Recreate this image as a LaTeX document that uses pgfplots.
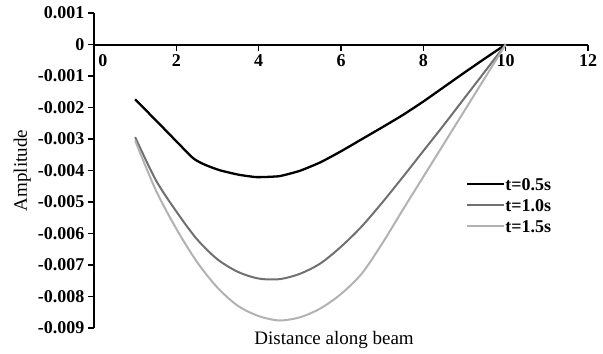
\documentclass[border=0pt]{standalone}
\usepackage{pgfplots}
\pgfplotsset{compat=1.18}
\usepackage{fontspec}
\setmainfont{Liberation Serif}

\definecolor{darkgrey}{RGB}{112,112,112}
\definecolor{lightgrey}{RGB}{178,178,178}

\begin{document}
\begin{tikzpicture}
\begin{axis}[
  scale only axis,
  width=494bp, height=315bp,
  xmin=0, xmax=12,
  ymin=-0.009, ymax=0.001,
  axis x line*=middle,
  axis y line*=left,
  axis line style={line width=2bp},
  tick align=outside,
  major tick length=6bp,
  tick style={line width=1.6bp, black},
  xtick={2,4,...,12},
  extra x ticks={0},
  extra x tick style={tick style={draw=none}, tick label style={xshift=9bp}},
  ytick={-0.009,-0.008,...,0.001},
  scaled y ticks=false,
  /pgf/number format/assume math mode=true,
  yticklabel style={/pgf/number format/fixed, /pgf/number format/precision=3},
  tick label style={font=\fontsize{18bp}{20bp}\selectfont\bfseries},
  xticklabel style={anchor=north, yshift=-1bp},
  xlabel={Distance along beam},
  ylabel={Amplitude},
  label style={font=\fontsize{19bp}{21bp}\selectfont},
  xlabel style={at={(axis description cs:0.486,-0.038)}, anchor=center},
  ylabel style={at={(axis description cs:-0.145,0.5)}, anchor=center},
  legend style={at={(axis description cs:0.753,0.476)}, anchor=north west,
    draw=none, fill=none, inner sep=0pt, outer sep=0pt, row sep=9bp,
    font=\fontsize{18bp}{20bp}\selectfont\bfseries,
    nodes={inner sep=0pt, text height=12bp, text depth=0bp}},
  legend cell align=left,
  legend image code/.code={\draw[#1] (0bp,0bp) -- (37bp,0bp);},
  every axis legend/.append style={/tikz/every even column/.append style={column sep=2bp}},
  clip=false,
]
% t = 0.5 s
\addplot[black, line width=2.3bp, smooth, tension=0.3] coordinates {
 (1,-0.00174) (1.7,-0.00267) (2.4,-0.00360) (2.7,-0.00382)
 (3.05,-0.00399) (3.5,-0.00413) (3.95,-0.00421) (4.5,-0.00418) (5.0,-0.00401)
 (5.5,-0.00374) (6.0,-0.00339) (6.5,-0.00301) (7.0,-0.00263) (7.5,-0.00224)
 (8.0,-0.00181) (8.5,-0.00135) (9.0,-0.00089) (9.5,-0.00044) (10,0)
};
\addlegendentry{t=0.5s}
% t = 1.0 s
\addplot[darkgrey, line width=2bp, smooth, tension=0.5] coordinates {
 (1,-0.00294) (1.5,-0.00430) (2,-0.00530) (2.5,-0.00618) (3,-0.00682)
 (3.5,-0.00722) (4,-0.00743) (4.5,-0.00745) (5,-0.00728) (5.5,-0.00695)
 (6,-0.00642) (6.5,-0.00578) (7,-0.00502) (7.5,-0.00421) (8,-0.00338)
 (8.5,-0.00255) (9,-0.00170) (9.5,-0.00085) (10,0)
};
\addlegendentry{t=1.0s}
% t = 1.5 s
\addplot[lightgrey, line width=2bp, smooth, tension=0.5] coordinates {
 (1,-0.00305) (1.5,-0.00462) (2,-0.00585) (2.5,-0.00690) (3,-0.00772)
 (3.5,-0.00830) (4,-0.00862) (4.5,-0.00876) (5,-0.00866) (5.5,-0.00838)
 (6,-0.00792) (6.5,-0.00728) (7,-0.00632) (7.5,-0.00525) (8,-0.00420)
 (8.5,-0.00315) (9,-0.00210) (9.5,-0.00105) (10,0)
};
\addlegendentry{t=1.5s}
\end{axis}
\pgfresetboundingbox
\path (current axis.south west) ++(-94bp,-26bp) coordinate (bbA);
\path (current axis.north east) ++(15bp,13bp) coordinate (bbB);
\useasboundingbox (bbA) rectangle (bbB);
\end{tikzpicture}
\end{document}
